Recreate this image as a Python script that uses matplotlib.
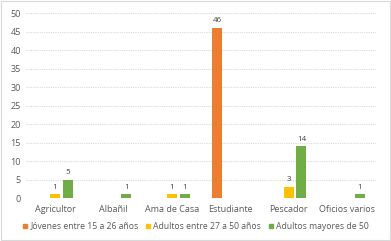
import matplotlib
matplotlib.use("Agg")
import matplotlib.pyplot as plt
import numpy as np
from matplotlib.lines import Line2D

categories = ["Agricultor", "Albañil", "Ama de Casa", "Estudiante", "Pescador", "Oficios varios"]
series_names = ["Jóvenes entre 15 a 26 años", "Adultos entre 27 a 50 años", "Adultos mayores de 50"]
jovenes = [0, 0, 0, 46, 0, 0]
adultos = [1, 0, 1, 0, 3, 0]
mayores = [5, 1, 1, 0, 14, 1]
colors = ["#ED7D31", "#FFC000", "#70AD47"]

plt.rcParams["font.family"] = ["Open Sans", "DejaVu Sans"]

fig = plt.figure(figsize=(3.91, 2.41), dpi=100)
ax = fig.add_axes([0.066, 0.178, 0.896, 0.768])

x = np.arange(len(categories))
width = 0.17
offset = 0.22
for i, (vals, col) in enumerate(zip([jovenes, adultos, mayores], colors)):
    pos = x + (i - 1) * offset
    ax.bar(pos, vals, width=width, color=col, zorder=3)
    for p, v in zip(pos, vals):
        if v > 0:
            ax.text(p, v + 1.0, str(v), ha="center", va="bottom", fontsize=5.8, color="#404040")

ax.set_ylim(0, 50)
ax.set_yticks(range(0, 51, 5))
ax.set_xlim(-0.5, len(categories) - 0.5)
ax.set_xticks(x)
ax.set_xticklabels(categories)
ax.tick_params(axis="both", length=0, labelsize=6.5, colors="#595959")
ax.tick_params(axis="x", pad=5)
ax.grid(axis="y", color="#D9D9D9", linewidth=0.8, linestyle=(0, (1, 1)), zorder=0)
for s in ax.spines.values():
    s.set_visible(False)

handles = [Line2D([0], [0], marker="s", linestyle="none", markersize=3.5,
                  markerfacecolor=c, markeredgecolor=c) for c in colors]
fig.legend(handles, series_names, loc="center", bbox_to_anchor=(0.5, 0.062), ncol=3,
           frameon=False, fontsize=6.2, labelcolor="#595959", handletextpad=0.3,
           columnspacing=0.8, handlelength=0.6)

fig.patches.append(plt.Rectangle((0.003, 0.004), 0.994, 0.992, transform=fig.transFigure,
                                 fill=False, edgecolor="#D9D9D9", linewidth=0.8))

fig.savefig("out.png", dpi=100)
